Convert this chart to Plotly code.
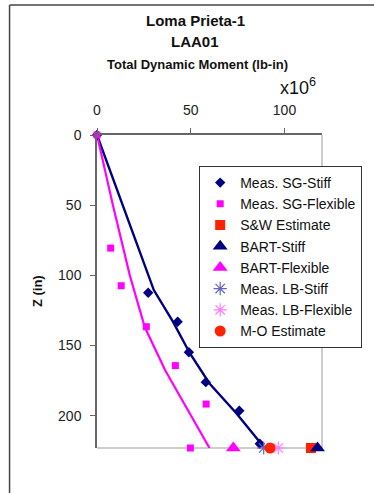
import plotly.graph_objects as go

# ---- data: total dynamic moment (x10^6 lb-in) versus depth Z (in) ----
sg_stiff_m = [0, 27.3, 43.0, 49.0, 58.0, 75.9, 86.8]
sg_stiff_z = [0, 112.4, 133.0, 154.8, 176.1, 196.5, 220.0]

sg_flex_m = [0, 7.3, 12.9, 26.3, 41.8, 58.2, 49.8]
sg_flex_z = [0, 80.6, 107.4, 136.6, 164.3, 191.7, 223.0]

stiff_curve_m = [0, 30.3, 40.5, 49.5, 60.0, 74.2, 89.4]
stiff_curve_z = [0, 110.5, 133.0, 155.5, 177.0, 198.0, 223.0]

flex_curve_m = [0, 8.5, 17.5, 25.5, 36.5, 60.0]
flex_curve_z = [0, 50.0, 100.0, 137.0, 168.0, 223.0]

tip_z = 223.0
sw_estimate = 114.1
bart_stiff = 117.6
bart_flex = 72.7
lb_stiff = 88.9
lb_flex = 96.7
mo_estimate = 92.3

x_ticks = [0, 50, 100]
z_ticks = [0, 50, 100, 150, 200]

# ---- page geometry (pixels) ----
W, H = 374, 493
ML, MR, MT, MB = 97, 48, 135, 45
PW, PH = W - ML - MR, H - MT - MB


def px_x(p):
    return (p - ML) / PW


def px_y(p):
    return (H - MB - p) / PH


FONT = "Liberation Sans, Arial, sans-serif"
NAVY = "#000080"
MAGENTA = "#FF00FF"
RED = "#FF2200"

fig = go.Figure()

# fitted profiles (no legend entries)
fig.add_trace(go.Scatter(x=stiff_curve_m, y=stiff_curve_z, mode="lines",
                         line=dict(color=NAVY, width=2.4), showlegend=False,
                         hoverinfo="skip"))
fig.add_trace(go.Scatter(x=flex_curve_m, y=flex_curve_z, mode="lines",
                         line=dict(color=MAGENTA, width=2.2), showlegend=False,
                         hoverinfo="skip"))

fig.add_trace(go.Scatter(x=sg_stiff_m, y=sg_stiff_z, mode="markers",
                         name="Meas. SG-Stiff",
                         marker=dict(symbol="diamond", size=8, color=NAVY)))
fig.add_trace(go.Scatter(x=sg_flex_m, y=sg_flex_z, mode="markers",
                         name="Meas. SG-Flexible",
                         marker=dict(symbol="square", size=7, color=MAGENTA)))
fig.add_trace(go.Scatter(x=[sw_estimate], y=[tip_z], mode="markers",
                         name="S&W Estimate",
                         marker=dict(symbol="square", size=10, color=RED)))
fig.add_trace(go.Scatter(x=[bart_stiff], y=[tip_z], mode="markers",
                         name="BART-Stiff",
                         marker=dict(symbol="triangle-up", size=13, color=NAVY)))
fig.add_trace(go.Scatter(x=[bart_flex], y=[tip_z], mode="markers",
                         name="BART-Flexible",
                         marker=dict(symbol="triangle-up", size=13, color=MAGENTA)))
fig.add_trace(go.Scatter(x=[lb_stiff], y=[tip_z], mode="markers",
                         name="Meas. LB-Stiff",
                         marker=dict(symbol="asterisk-open", size=11,
                                     color="#6464C8",
                                     line=dict(color="#6464C8", width=1.2))))
fig.add_trace(go.Scatter(x=[lb_flex], y=[tip_z], mode="markers",
                         name="Meas. LB-Flexible",
                         marker=dict(symbol="asterisk-open", size=11,
                                     color="#FF7CFF",
                                     line=dict(color="#FF7CFF", width=1.2))))
fig.add_trace(go.Scatter(x=[mo_estimate], y=[tip_z], mode="markers",
                         name="M-O Estimate",
                         marker=dict(symbol="circle", size=11, color=RED)))

fig.update_traces(cliponaxis=False)

shapes = [
    # outer chart frame: left and top edges
    dict(type="line", xref="paper", yref="paper",
         x0=px_x(8), x1=px_x(8), y0=px_y(H + 10), y1=px_y(5),
         line=dict(color="#444444", width=1.5), layer="below"),
    dict(type="line", xref="paper", yref="paper",
         x0=px_x(8), x1=px_x(W + 10), y0=px_y(5), y1=px_y(5),
         line=dict(color="#444444", width=1.5), layer="below"),
    # right and bottom plot borders (light grey)
    dict(type="line", xref="paper", yref="paper", x0=1, x1=1, y0=0, y1=1,
         line=dict(color="#BDBDBD", width=1.5), layer="below"),
    dict(type="line", xref="paper", yref="paper", x0=0, x1=1, y0=0, y1=0,
         line=dict(color="#BDBDBD", width=1.5), layer="below"),
]


def label(text, x, y, size, angle=0):
    return dict(text=text, x=px_x(x), y=px_y(y), xref="paper", yref="paper",
                xanchor="center", yanchor="middle", showarrow=False,
                textangle=angle, font=dict(size=size, color="#111"))


annotations = [
    label("<b>Loma Prieta-1</b>", 197, 20, 15),
    label("<b>LAA01</b>", 197, 41, 15),
    label("<b>Total Dynamic Moment (lb-in)</b>", 199, 64, 13),
    label("x10<sup>6</sup>", 302, 86, 18),
    label("<b>Z (in)</b>", 36, 291, 13, -90),
]

fig.update_layout(
    width=W, height=H, autosize=False,
    margin=dict(l=ML, r=MR, t=MT, b=MB, pad=0),
    paper_bgcolor="white", plot_bgcolor="white",
    font=dict(family=FONT, color="#222"),
    shapes=shapes, annotations=annotations,
    showlegend=True,
    legend=dict(x=px_x(201), y=px_y(166), xanchor="left", yanchor="top",
                bgcolor="white", bordercolor="#333", borderwidth=1,
                font=dict(size=14, color="#111"),
                itemsizing="trace", tracegroupgap=0),
    xaxis=dict(side="top", range=[0, 120], tickvals=x_ticks,
               showgrid=False, zeroline=False, showline=True,
               linecolor="#666666", linewidth=1.5,
               ticks="outside", ticklen=5, tickcolor="#666666",
               tickfont=dict(size=14, color="#222"), ticklabelstandoff=8),
    yaxis=dict(range=[tip_z, 0], tickvals=z_ticks,
               showgrid=False, zeroline=False, showline=True,
               linecolor="#666666", linewidth=1.5,
               ticks="outside", ticklen=5, tickcolor="#666666",
               tickfont=dict(size=14, color="#222"), ticklabelstandoff=6),
)

fig.write_html("out.html")
